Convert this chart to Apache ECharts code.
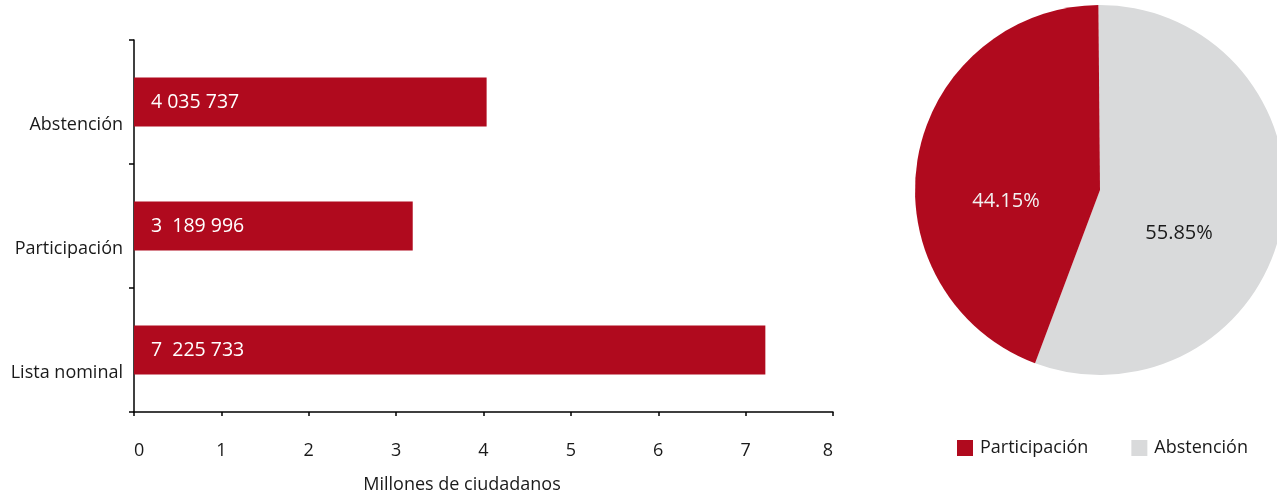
<!DOCTYPE html>
<html>
<head>
<meta charset="utf-8">
<script src="https://cdn.jsdelivr.net/npm/echarts@6/dist/echarts.min.js"></script>
<style>
html,body{margin:0;padding:0;background:#fff;}
#c{width:1277px;height:493px;}
</style>
</head>
<body>
<div id="c"></div>
<script>
const categories = ['Lista nominal', 'Participación', 'Abstención'];
const barValues = [7.225733, 3.189996, 4.035737];
const barLabels = ['7  225 733', '3  189 996', '4 035 737'];
const xTicks = [0, 1, 2, 3, 4, 5, 6, 7, 8];
const pieNames = ['Abstención', 'Participación'];
const pieValues = [55.85, 44.15];
const legendOrder = ['Participación', 'Abstención'];

const RED = '#B00A1E';
const GREY = '#D9DADB';
const FONT = 'Open Sans';

const chart = echarts.init(document.getElementById('c'), null, {renderer: 'canvas'});
chart.setOption({
  animation: false,
  textStyle: {fontFamily: FONT},
  grid: {left: 134, right: 444, top: 40, bottom: 81, containLabel: false, outerBoundsMode: 'none'},
  legend: {
    data: legendOrder,
    left: 952, top: 434,
    itemWidth: 16, itemHeight: 16, itemGap: 43,
    icon: 'rect',
    textStyle: {fontSize: 18, color: '#1a1a1a', fontFamily: FONT, padding: [0, 0, 0, 2]}
  },
  xAxis: {
    type: 'value', min: xTicks[0], max: xTicks[xTicks.length - 1], interval: 1,
    axisLine: {show: true, lineStyle: {color: '#000', width: 1.5}},
    axisTick: {show: true, length: 4, lineStyle: {color: '#000', width: 1.5}},
    splitLine: {show: false},
    axisLabel: {margin: 30, fontSize: 18, color: '#1a1a1a', fontFamily: FONT,
      alignMinLabel: 'left', alignMaxLabel: 'right'},
    name: 'Millones de ciudadanos', nameLocation: 'middle', nameGap: 64,
    nameTextStyle: {fontSize: 18, color: '#1a1a1a', fontFamily: FONT, padding: [0, 43, 0, 0]}
  },
  yAxis: {
    type: 'category', data: categories,
    axisLine: {show: true, lineStyle: {color: '#000', width: 1.5}},
    axisTick: {show: true, length: 5, lineStyle: {color: '#000', width: 1.5}},
    axisLabel: {
      margin: 11, color: '#1a1a1a', fontFamily: FONT, fontSize: 18,
      formatter: v => '{a|' + v + '}',
      rich: {a: {fontSize: 18, color: '#1a1a1a', fontFamily: FONT, padding: [46, 0, 0, 0]}}
    }
  },
  series: [
    {
      type: 'bar',
      data: barValues,
      barWidth: 49,
      itemStyle: {color: RED},
      label: {
        show: true, position: 'insideLeft', distance: 17,
        color: '#fff', fontSize: 19.5, fontFamily: FONT,
        formatter: p => barLabels[p.dataIndex]
      }
    },
    {
      type: 'pie',
      center: [1100, 190],
      radius: 185,
      startAngle: 90.5,
      clockwise: true,
      data: [
        {name: pieNames[0], value: pieValues[0], itemStyle: {color: GREY}},
        {name: pieNames[1], value: pieValues[1], itemStyle: {color: RED}}
      ],
      label: {
        show: true, position: 'inside',
        formatter: p => (p.dataIndex === 0 ? '{g|' : '{r|') + p.value.toFixed(2) + '%}',
        rich: {
          g: {fontSize: 20, fontFamily: FONT, color: '#1a1a1a', padding: [54, 30, 0, 0]},
          r: {fontSize: 20, fontFamily: FONT, color: '#f2f2f2', padding: [56, 0, 0, 0]}
        }
      },
      labelLine: {show: false},
      emphasis: {disabled: true}
    }
  ]
});
</script>
</body>
</html>
